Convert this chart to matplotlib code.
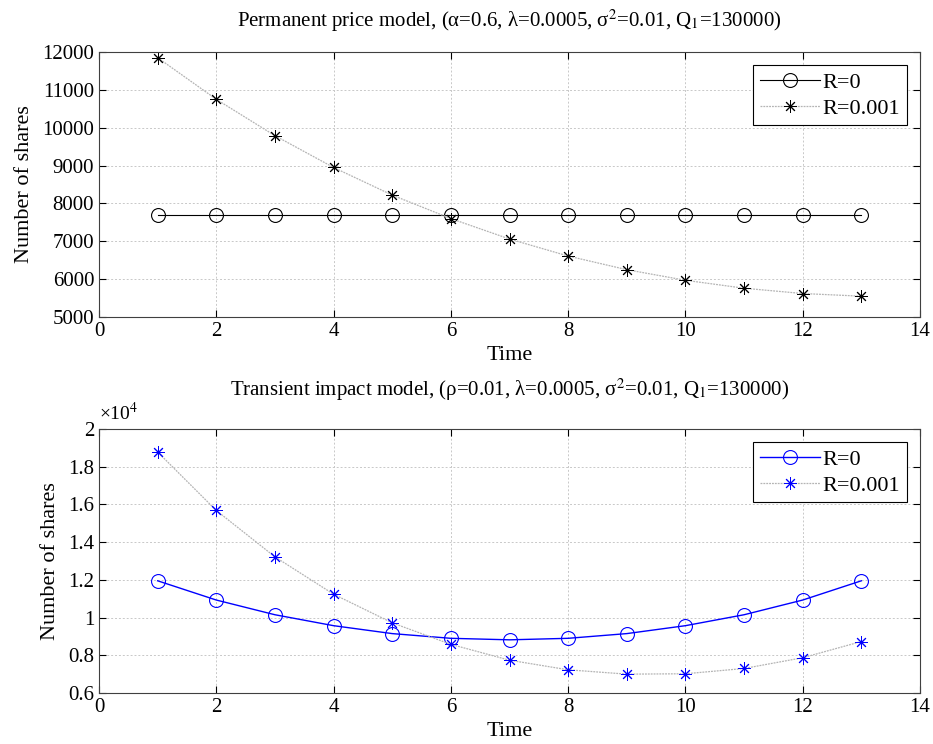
import matplotlib
matplotlib.use("Agg")
import matplotlib.pyplot as plt
from matplotlib.ticker import FuncFormatter

plt.rcParams['font.family'] = ['Liberation Serif', 'DejaVu Serif']
plt.rcParams['mathtext.fontset'] = 'stix'

time = [1, 2, 3, 4, 5, 6, 7, 8, 9, 10, 11, 12, 13]
perm_r0 = [7690] * 13
perm_r001 = [11850, 10750, 9790, 8950, 8220, 7600, 7060, 6610, 6250, 5970, 5760, 5620, 5550]
trans_r0 = [11950, 10930, 10150, 9570, 9150, 8900, 8820, 8900, 9150, 9570, 10150, 10930, 11950]
trans_r001 = [18780, 15680, 13220, 11240, 9720, 8580, 7740, 7230, 7000, 7020, 7300, 7870, 8730]
labels = ['R=0', 'R=0.001']
top_title = 'Permanent price model, (α=0.6, λ=0.0005, σ$^2$=0.01, Q$_1$=130000)'
bot_title = 'Transient impact model, (ρ=0.01, λ=0.0005, σ$^2$=0.01, Q$_1$=130000)'

fig = plt.figure(figsize=(9.33, 7.44), dpi=100)
W, H = 933, 744
ax1 = fig.add_axes([99/W, 1 - 317/H, 821/W, 265/H])
ax2 = fig.add_axes([99/W, 1 - 693/H, 821/W, 264/H])

star = (8, 2, 0)

def style(ax):
    ax.set_xlim(0, 14)
    ax.set_xticks(range(0, 15, 2))
    ax.grid(True, linestyle=(0, (2, 2)), color='#c8c8c8', linewidth=0.7)
    ax.tick_params(direction='in', top=True, right=True, labelsize=15, length=5, width=0.8)
    for s in ax.spines.values():
        s.set_linewidth(0.8)
        s.set_color('#404040')
    ax.set_xlabel('Time', fontsize=16, labelpad=4)
    ax.set_ylabel('Number of shares', fontsize=16, labelpad=6)

def legend(ax):
    leg = ax.legend(loc='upper right', fontsize=16, fancybox=False, edgecolor='black',
                    framealpha=1, borderaxespad=0.6, handlelength=2.7, handletextpad=0.1,
                    labelspacing=0.25, borderpad=0.3)
    leg.get_frame().set_linewidth(0.8)

style(ax1)
ax1.plot(time, perm_r0, color='black', linewidth=0.8, marker='o', markersize=10,
         markerfacecolor='none', markeredgewidth=0.8, label=labels[0])
ax1.plot(time, perm_r001, color='#b4b4b4', linewidth=0.9, linestyle=(0, (1.5, 0.8)),
         marker=star, markersize=9, markeredgecolor='black', markeredgewidth=0.7,
         label=labels[1])
ax1.set_ylim(5000, 12000)
ax1.set_yticks(range(5000, 12001, 1000))
ax1.set_title(top_title, fontsize=15, pad=18)
legend(ax1)

style(ax2)
ax2.plot(time, trans_r0, color='blue', linewidth=1.0, marker='o', markersize=10,
         markerfacecolor='none', markeredgewidth=0.8, label=labels[0])
ax2.plot(time, trans_r001, color='#b4b4b4', linewidth=0.9, linestyle=(0, (1.5, 0.8)),
         marker=star, markersize=9, markeredgecolor='blue', markeredgewidth=0.7,
         label=labels[1])
ax2.set_ylim(6000, 20000)
ax2.set_yticks(range(6000, 20001, 2000))
ax2.yaxis.set_major_formatter(FuncFormatter(lambda v, p: '%g' % (v / 1e4)))
ax2.text(0.0, 1.02, '×10$^4$', transform=ax2.transAxes, fontsize=14, ha='left', va='bottom')
ax2.set_title(bot_title, fontsize=15, pad=24)
legend(ax2)

fig.savefig('out.png', dpi=100)
